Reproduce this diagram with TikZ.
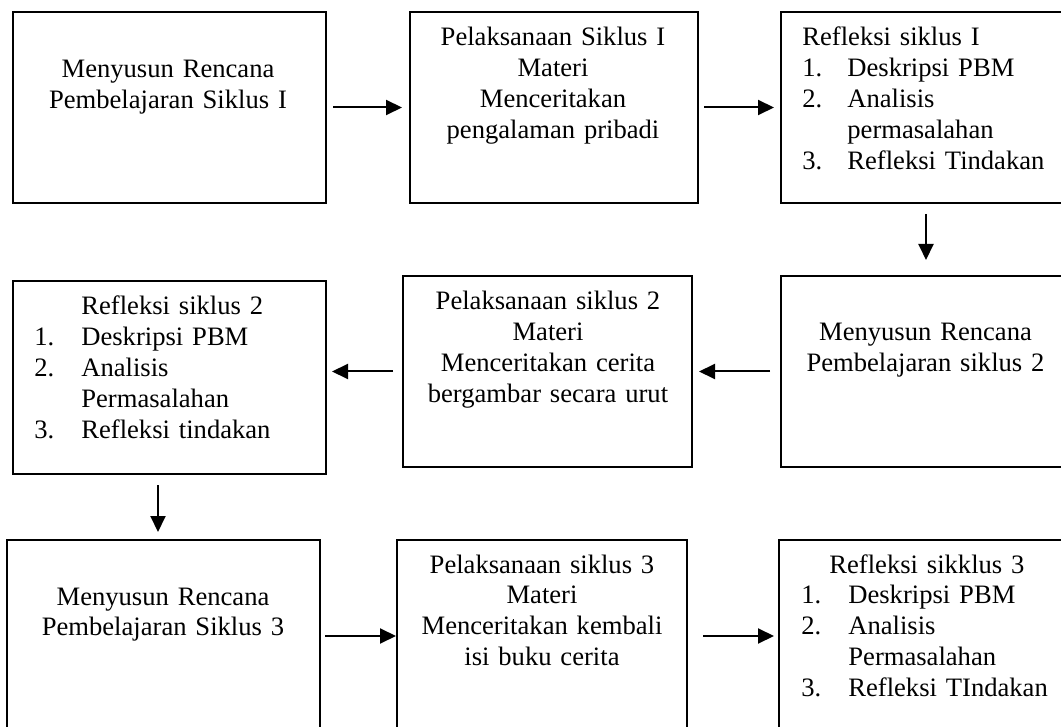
\documentclass[tikz,border=0pt]{standalone}
\usepackage{fontspec}
\setmainfont{Liberation Serif}
\usetikzlibrary{arrows.meta}
\begin{document}
\begin{tikzpicture}[x=0.5pt,y=-0.5pt,
  box/.style={draw, line width=1pt, inner sep=0pt},
  ctext/.style={anchor=base, align=center, text width=150pt, inner sep=0pt, font=\fontsize{13.3}{15.45}\selectfont},
  ltext/.style={anchor=base west, align=left, text width=135pt, inner sep=0pt, font=\fontsize{13.3}{15.45}\selectfont},
  arr/.style={line width=1pt, -{Triangle[length=8pt,width=7.5pt]}}]
\useasboundingbox (0,0) rectangle (1061,727);
\clip (0,0) rectangle (1061,727);
\fill[white] (0,0) rectangle (1061,727);

% boxes
\node[box, minimum width=156.5pt, minimum height=95.5pt] (A) at (169.5,107.5) {};
\node[box, minimum width=144pt,   minimum height=95.5pt] (B) at (554,107.5) {};
\node[box, minimum width=145pt,   minimum height=95.5pt] (C) at (926,107.5) {};
\node[box, minimum width=156.5pt, minimum height=96.5pt] (D) at (169.5,377.5) {};
\node[box, minimum width=144.5pt, minimum height=95.5pt] (E) at (547.5,371.5) {};
\node[box, minimum width=145pt,   minimum height=95.5pt] (F) at (926,371.5) {};
\node[box, minimum width=156.5pt, minimum height=100pt] (G) at (163.5,640) {};
\node[box, minimum width=145pt,   minimum height=100pt] (H) at (542,640) {};
\node[box, minimum width=146pt,   minimum height=100pt] (I) at (925,640) {};

% texts
\node[ctext] (At) at (168,78) {Menyusun Rencana\\Pembelajaran Siklus I};
\node[ctext] (Bt) at (553,46) {Pelaksanaan Siklus I\\Materi\\Menceritakan\\pengalaman pribadi};
\node[ltext] (Ct) at (802,46) {Refleksi siklus I\\
\makebox[22.5pt][l]{1.}Deskripsi PBM\\
\makebox[22.5pt][l]{2.}Analisis\\
\hspace*{22.5pt}permasalahan\\
\makebox[22.5pt][l]{3.}Refleksi Tindakan};
\node[ltext] (Dt) at (34,315) {\hspace*{23.5pt}Refleksi siklus 2\\
\makebox[23.5pt][l]{1.}Deskripsi PBM\\
\makebox[23.5pt][l]{2.}Analisis\\
\hspace*{23.5pt}Permasalahan\\
\makebox[23.5pt][l]{3.}Refleksi tindakan};
\node[ctext] (Et) at (548,310) {Pelaksanaan siklus 2\\Materi\\Menceritakan cerita\\bergambar secara urut};
\node[ctext] (Ft) at (925.5,341) {Menyusun Rencana\\Pembelajaran siklus 2};
\node[ctext] (Gt) at (163,605) {Menyusun Rencana\\Pembelajaran Siklus 3};
\node[ctext] (Ht) at (542,573) {Pelaksanaan siklus 3\\Materi\\Menceritakan kembali\\isi buku cerita};
\node[ltext] (It) at (801,573) {\hspace*{14pt}Refleksi sikklus 3\\
\makebox[23.5pt][l]{1.}Deskripsi PBM\\
\makebox[23.5pt][l]{2.}Analisis\\
\hspace*{23.5pt}Permasalahan\\
\makebox[23.5pt][l]{3.}Refleksi TIndakan};

% connectors
\draw[arr, shorten <=3pt, shorten >=3.5pt] (A) -- (B);
\draw[arr, shorten <=2.5pt, shorten >=3pt] (B) -- (C);
\draw[arr, shorten <=5pt, shorten >=7.5pt] (C) -- (F);
\draw[arr, shorten <=5pt, shorten >=3pt] (F) -- (E);
\draw[arr, shorten <=4.5pt, shorten >=2.5pt] (E.west) -- (E.west -| D.east);
\coordinate (dg) at (158,474);
\draw[arr, shorten <=5.5pt, shorten >=3.5pt] (dg) -- (dg |- G.north);
\coordinate (gh) at (320,636);
\draw[arr, shorten <=2.5pt] (gh) -- (gh -| H.west);
\coordinate (hi) at (687,636);
\draw[arr, shorten <=8pt, shorten >=2pt] (hi) -- (hi -| I.west);
\end{tikzpicture}
\end{document}
